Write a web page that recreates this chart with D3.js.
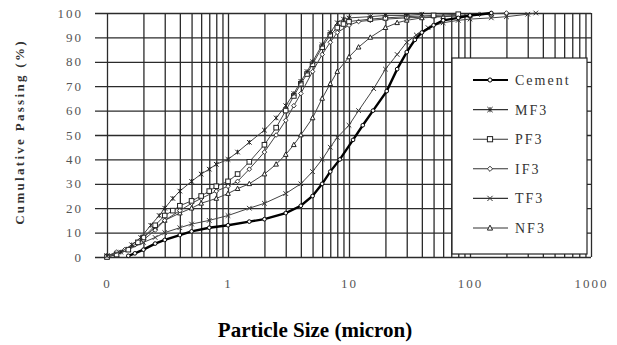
<!DOCTYPE html>
<html>
<head>
<meta charset="utf-8">
<script src="https://cdn.jsdelivr.net/npm/d3@7"></script>
<style>
  html, body { margin: 0; padding: 0; background: #fff; }
  svg { display: block; }
  .tick text { font-family: "Liberation Serif", "Times New Roman", serif; }
</style>
</head>
<body>
<svg id="chart" width="617" height="345"></svg>
<script>
// Cumulative passing (%) against particle size (micron) for cement and five fillers
const cementSize = [0.15, 0.17, 0.2, 0.25, 0.3, 0.4, 0.5, 0.7, 1.0, 1.5, 2.0, 3.0, 4.0, 5.0, 6.0, 7.0, 8.4, 10.8, 13, 15.8, 20.5, 25, 30, 35, 40, 50, 60, 80, 100, 150];
const cementPass = [0.5, 1.5, 3, 5.5, 7, 9, 10.5, 12, 13, 14.5, 15.5, 18, 21, 25, 30, 35, 40, 48, 54, 60, 68, 77, 84, 89, 92, 95, 97, 98, 99, 100];

const mf3Size = [0.1, 0.13, 0.16, 0.19, 0.23, 0.27, 0.3, 0.35, 0.4, 0.5, 0.6, 0.7, 0.8, 1.0, 1.2, 1.5, 2.0, 2.5, 3.0, 3.5, 4.0, 4.5, 5.0, 6.0, 7.0, 8.0, 9.0, 10, 15, 20, 30, 40];
const mf3Pass = [0.5, 2, 5, 8, 13, 17, 20, 24, 27, 31, 34, 36, 38, 40, 43, 47, 52, 57, 62, 67, 72, 76, 80, 87, 92, 96, 97.5, 98, 98.5, 99, 99, 99.5];

const pf3Size = [0.1, 0.12, 0.15, 0.18, 0.2, 0.25, 0.3, 0.35, 0.4, 0.5, 0.6, 0.7, 0.8, 1.0, 1.2, 1.5, 2.0, 2.5, 3.0, 3.5, 4.0, 4.5, 5.0, 6.0, 7.0, 8.0, 9.0, 10, 15, 20, 30, 50, 80];
const pf3Pass = [0, 1, 3, 6, 8, 13, 17, 19, 21, 23, 25, 27, 29, 31, 34, 39, 46, 53, 60, 66, 71, 75, 79, 86, 91, 94, 95.5, 96.5, 97.5, 98, 98.5, 99, 99.5];

const if3Size = [0.1, 0.12, 0.14, 0.17, 0.2, 0.25, 0.3, 0.4, 0.5, 0.6, 0.8, 1.0, 1.2, 1.5, 2.0, 2.5, 3.0, 3.5, 4.0, 5.0, 6.0, 7.0, 8.0, 10, 12, 15, 20, 30, 50, 80, 120, 200];
const if3Pass = [0.5, 2, 3, 5, 7, 11, 15, 19, 22, 24, 27, 29, 31, 36, 43, 50, 56, 62, 67, 76, 83, 88, 92, 95, 96.5, 97, 97.5, 98, 98.5, 99, 99.5, 100];

const tf3Size = [0.1, 0.12, 0.15, 0.2, 0.25, 0.3, 0.4, 0.5, 0.7, 1.0, 1.5, 2.0, 3.0, 4.0, 5.0, 6.0, 7.0, 8.0, 10, 12, 16, 20, 25, 30, 36, 45, 60, 80, 100, 150, 200, 300, 350];
const tf3Pass = [0.5, 1.5, 3, 6, 8, 10, 12, 13.5, 15, 17, 20, 22, 26, 30, 35, 40, 45, 49, 54, 60, 69, 77, 83, 88, 91, 94, 96, 97, 97.5, 98, 98.5, 99.5, 100];

const nf3Size = [0.1, 0.12, 0.15, 0.2, 0.25, 0.3, 0.4, 0.5, 0.6, 0.8, 1.0, 1.2, 1.5, 2.0, 2.5, 3.0, 3.5, 4.0, 5.0, 6.0, 7.0, 8.0, 10, 12, 15, 20, 25, 30, 40, 60, 100, 150];
const nf3Pass = [0, 1, 3, 8, 12, 15, 18, 20, 22, 24, 26, 28, 30, 34, 38, 42, 46, 50, 57, 65, 71, 76, 82, 86, 90, 94, 96, 97, 98, 98.5, 99, 99.5];

const seriesNames = ["Cement", "MF3", "PF3", "IF3", "TF3", "NF3"];
const seriesSymbols = ["circle", "asterisk", "square", "diamond", "cross", "triangle"];

const xTickValues = [0.1, 1, 10, 100, 1000];
const xTickLabels = ["0", "1", "10", "100", "1000"];
const yTickValues = [0, 10, 20, 30, 40, 50, 60, 70, 80, 90, 100];

const series = [
  { name: seriesNames[0], symbol: seriesSymbols[0], size: cementSize, pass: cementPass },
  { name: seriesNames[1], symbol: seriesSymbols[1], size: mf3Size, pass: mf3Pass },
  { name: seriesNames[2], symbol: seriesSymbols[2], size: pf3Size, pass: pf3Pass },
  { name: seriesNames[3], symbol: seriesSymbols[3], size: if3Size, pass: if3Pass },
  { name: seriesNames[4], symbol: seriesSymbols[4], size: tf3Size, pass: tf3Pass },
  { name: seriesNames[5], symbol: seriesSymbols[5], size: nf3Size, pass: nf3Pass }
].map(s => ({ ...s, points: s.size.map((d, i) => ({ size: d, pass: s.pass[i] })) }));

const svg = d3.select("#chart");
const plotLeft = 107, plotRight = 591, plotTop = 13, plotBottom = 257, gridLeft = 95;

const x = d3.scaleLog().domain([0.1, 1000]).range([plotLeft, plotRight]);
const y = d3.scaleLinear().domain([0, 100]).range([plotBottom, plotTop]);

// Log-spaced vertical grid: every 1..9 multiple of each decade
const minorValues = [];
for (let e = -1; e < 3; e++) for (let m = 1; m < 10; m++) minorValues.push(m * Math.pow(10, e));
minorValues.push(1000);

const gridColor = "#2b2b2b";

svg.append("g")
  .attr("transform", `translate(0,${plotBottom})`)
  .call(d3.axisBottom(x).tickValues(minorValues).tickSize(-(plotBottom - plotTop)).tickFormat(""))
  .call(g => g.select(".domain").remove())
  .call(g => g.selectAll("line").attr("stroke", gridColor).attr("stroke-width", 1.3));

svg.append("g")
  .attr("transform", `translate(${gridLeft},0)`)
  .call(d3.axisLeft(y).tickValues(yTickValues).tickSize(-(plotRight - gridLeft)).tickPadding(12).tickFormat(d3.format("d")))
  .call(g => g.select(".domain").remove())
  .call(g => g.selectAll("line").attr("stroke", gridColor).attr("stroke-width", 1.3))
  .call(g => g.selectAll("text")
    .attr("font-size", 13).attr("fill", "#555").attr("letter-spacing", "2px"));

svg.append("g")
  .attr("transform", `translate(0,${plotBottom})`)
  .call(d3.axisBottom(x).tickValues(xTickValues).tickSize(0).tickPadding(22)
    .tickFormat((d, i) => xTickLabels[i]))
  .call(g => g.select(".domain").remove())
  .call(g => g.selectAll("text")
    .attr("font-size", 13).attr("fill", "#555").attr("letter-spacing", "2px"));

// Marker shapes
function marker(sel, symbol, r) {
  if (symbol === "circle") {
    sel.append("circle").attr("r", r * 0.8).attr("fill", "#fff").attr("stroke", "#000").attr("stroke-width", 1);
  } else if (symbol === "square") {
    sel.append("rect").attr("x", -r).attr("y", -r).attr("width", 2 * r).attr("height", 2 * r)
      .attr("fill", "#fff").attr("stroke", "#222").attr("stroke-width", 1);
  } else if (symbol === "diamond") {
    sel.append("path").attr("d", `M0,${-r}L${r},0L0,${r}L${-r},0Z`)
      .attr("fill", "#fff").attr("stroke", "#333").attr("stroke-width", 1);
  } else if (symbol === "triangle") {
    sel.append("path").attr("d", `M0,${-r * 1.1}L${r},${r * 0.8}L${-r},${r * 0.8}Z`)
      .attr("fill", "#fff").attr("stroke", "#222").attr("stroke-width", 1);
  } else if (symbol === "cross") {
    sel.append("path").attr("d", `M${-r},${-r}L${r},${r}M${-r},${r}L${r},${-r}`)
      .attr("stroke", "#333").attr("stroke-width", 1);
  } else if (symbol === "asterisk") {
    sel.append("path").attr("d", `M${-r},${-r}L${r},${r}M${-r},${r}L${r},${-r}M0,${-r}L0,${r}`)
      .attr("stroke", "#222").attr("stroke-width", 1);
  }
}

const line = d3.line().x(d => x(d.size)).y(d => y(d.pass));

const plot = svg.append("g");
series.slice().reverse().forEach(s => {
  const isCement = s.name === "Cement";
  plot.append("path")
    .datum(s.points)
    .attr("fill", "none")
    .attr("stroke", isCement ? "#000" : "#444")
    .attr("stroke-width", isCement ? 2.4 : 1)
    .attr("d", line);
  plot.selectAll(null)
    .data(s.points)
    .enter().append("g")
    .attr("transform", d => `translate(${x(d.size)},${y(d.pass)})`)
    .each(function () { marker(d3.select(this), s.symbol, 2.3); });
});

// Legend
const legend = svg.append("g");
legend.append("rect")
  .attr("x", 452).attr("y", 58).attr("width", 135).attr("height", 196)
  .attr("fill", "#fff").attr("stroke", "#222").attr("stroke-width", 1.2);

series.forEach((s, i) => {
  const ly = 80 + i * 29.6;
  const g = legend.append("g");
  g.append("line").attr("x1", 473).attr("x2", 508).attr("y1", ly).attr("y2", ly)
    .attr("stroke", s.name === "Cement" ? "#000" : "#333")
    .attr("stroke-width", s.name === "Cement" ? 2.2 : 1.1);
  const m = g.append("g").attr("transform", `translate(490,${ly})`);
  marker(m, s.symbol, 2.6);
  g.append("text")
    .attr("x", 515).attr("y", ly).attr("dy", "0.35em")
    .attr("font-family", "'Liberation Serif', 'Times New Roman', serif")
    .attr("font-size", 14).attr("letter-spacing", "2px").attr("fill", "#333")
    .text(s.name);
});

// Axis titles
svg.append("text")
  .attr("transform", "translate(24,132) rotate(-90)")
  .attr("text-anchor", "middle")
  .attr("font-family", "'Liberation Serif', 'Times New Roman', serif")
  .attr("font-weight", "bold").attr("font-size", 13).attr("letter-spacing", "2.3px")
  .attr("fill", "#333")
  .text("Cumulative Passing (%)");

svg.append("text")
  .attr("x", 315).attr("y", 337)
  .attr("text-anchor", "middle")
  .attr("font-family", "'Liberation Serif', 'Times New Roman', serif")
  .attr("font-weight", "bold").attr("font-size", 21)
  .attr("fill", "#000")
  .text("Particle Size (micron)");
</script>
</body>
</html>
